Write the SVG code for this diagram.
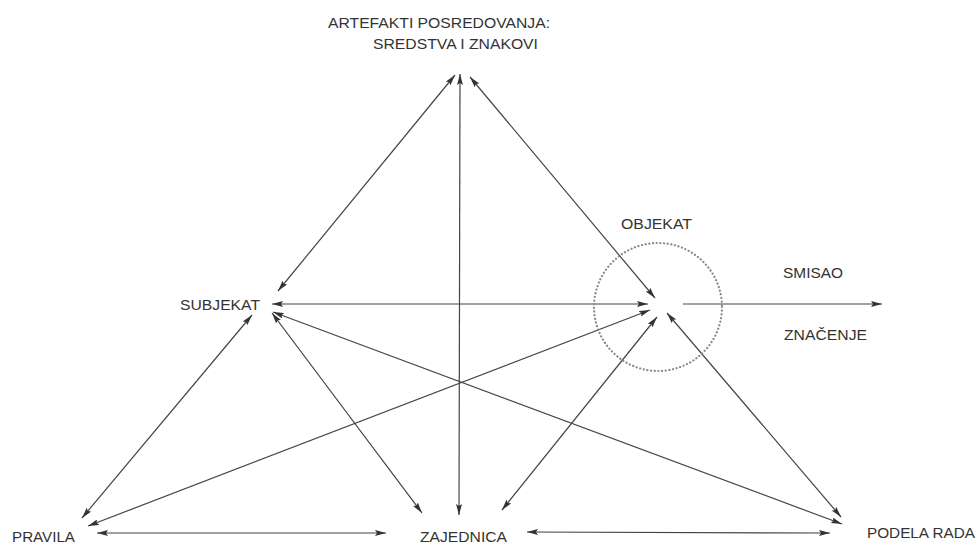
<svg xmlns="http://www.w3.org/2000/svg" width="978" height="546" viewBox="0 0 978 546">
<defs>
<marker id="ah" viewBox="0 0 11 6" refX="11" refY="3" markerWidth="11" markerHeight="6" markerUnits="userSpaceOnUse" orient="auto-start-reverse">
<path d="M0,0 L11,3 L0,6 L2,3 Z" fill="#333"/>
</marker>
</defs>
<style>
.t{font-family:"Liberation Sans",Arial,sans-serif;font-size:15px;fill:#333;}
.c line{stroke:#444;stroke-width:1.2;marker-start:url(#ah);marker-end:url(#ah);}
.c line.one{marker-start:none;}
</style>
<rect width="978" height="546" fill="#fff"/>
<g class="c" id="connectors">
<line x1="455" y1="75" x2="278" y2="291"/>
<line x1="460" y1="74" x2="459" y2="515"/>
<line x1="470" y1="77" x2="655" y2="298"/>
<line x1="272" y1="304" x2="648" y2="304"/>
<line x1="252" y1="315" x2="82" y2="518"/>
<line x1="272" y1="313" x2="422" y2="513"/>
<line x1="273" y1="312" x2="842" y2="524"/>
<line x1="650" y1="310" x2="88" y2="526"/>
<line x1="657" y1="317" x2="502" y2="510"/>
<line x1="667" y1="313" x2="841" y2="517"/>
<line x1="97" y1="533" x2="386" y2="533"/>
<line x1="527" y1="532" x2="830" y2="533"/>
<line class="one" x1="683" y1="304" x2="882" y2="304"/>
</g>
<g id="artefakti">
<text class="t" x="328" y="28" textLength="222" lengthAdjust="spacingAndGlyphs">ARTEFAKTI POSREDOVANJA:</text>
<text class="t" x="373" y="49" textLength="165" lengthAdjust="spacingAndGlyphs">SREDSTVA I ZNAKOVI</text>
</g>
<g id="subjekat">
<text class="t" x="180" y="310" textLength="80" lengthAdjust="spacingAndGlyphs">SUBJEKAT</text>
</g>
<g id="objekat">
<circle cx="658" cy="307" r="64" fill="none" stroke="#888" stroke-width="2.2" stroke-dasharray="0.1 3.6" stroke-linecap="round"/>
<text class="t" x="621" y="229" textLength="71" lengthAdjust="spacingAndGlyphs">OBJEKAT</text>
</g>
<g id="smisao">
<text class="t" x="783" y="278" textLength="60" lengthAdjust="spacingAndGlyphs">SMISAO</text>
<text class="t" x="784" y="340" textLength="83" lengthAdjust="spacingAndGlyphs">ZNAČENJE</text>
</g>
<g id="pravila">
<text class="t" x="12" y="542" textLength="63" lengthAdjust="spacingAndGlyphs">PRAVILA</text>
</g>
<g id="zajednica">
<text class="t" x="420" y="542" textLength="87" lengthAdjust="spacingAndGlyphs">ZAJEDNICA</text>
</g>
<g id="podela">
<text class="t" x="867" y="538" textLength="108" lengthAdjust="spacingAndGlyphs">PODELA RADA</text>
</g>
</svg>
